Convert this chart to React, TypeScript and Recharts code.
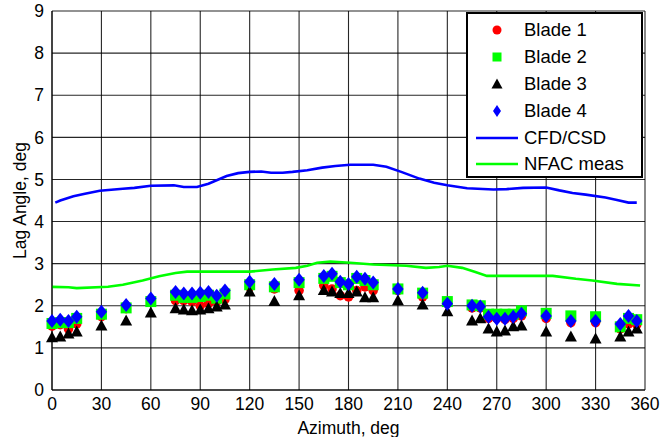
import { ComposedChart, Scatter, Line, XAxis, YAxis, CartesianGrid, Legend } from 'recharts'

const azimuths = [0, 5, 10, 15, 30, 45, 60, 75, 80, 85, 90, 95, 100, 105, 120, 135, 150, 165, 170, 175, 180, 185, 190, 195, 210, 225, 240, 255, 260, 265, 270, 275, 280, 285, 300, 315, 330, 345, 350, 355]

const blade1 = [1.52, 1.55, 1.45, 1.57, 1.74, 1.93, 2.1, 2.12, 2.12, 2.1, 2.0, 2.05, 2.1, 2.15, 2.45, 2.4, 2.36, 2.48, 2.4, 2.24, 2.21, 2.36, 2.45, 2.36, 2.36, 2.21, 2.05, 1.95, 1.95, 1.7, 1.7, 1.68, 1.7, 1.76, 1.7, 1.6, 1.6, 1.45, 1.57, 1.55]
const blade2 = [1.58, 1.6, 1.6, 1.7, 1.8, 1.95, 2.1, 2.25, 2.2, 2.2, 2.22, 2.25, 2.18, 2.28, 2.5, 2.45, 2.55, 2.65, 2.7, 2.55, 2.5, 2.65, 2.6, 2.5, 2.4, 2.3, 2.1, 2.02, 2.0, 1.8, 1.8, 1.8, 1.8, 1.88, 1.82, 1.76, 1.74, 1.5, 1.7, 1.67]
const blade3 = [1.24, 1.26, 1.33, 1.38, 1.52, 1.64, 1.83, 1.93, 1.9, 1.88, 1.9, 1.93, 1.97, 2.02, 2.33, 2.1, 2.24, 2.36, 2.33, 2.29, 2.29, 2.33, 2.19, 2.19, 2.12, 2.02, 1.86, 1.64, 1.69, 1.45, 1.38, 1.4, 1.5, 1.52, 1.38, 1.26, 1.21, 1.26, 1.38, 1.45]
const blade4 = [1.64, 1.67, 1.64, 1.74, 1.86, 2.02, 2.17, 2.33, 2.29, 2.29, 2.31, 2.33, 2.24, 2.36, 2.57, 2.52, 2.62, 2.71, 2.76, 2.57, 2.52, 2.69, 2.64, 2.55, 2.4, 2.31, 2.05, 2.0, 1.98, 1.74, 1.69, 1.69, 1.74, 1.81, 1.76, 1.64, 1.64, 1.57, 1.76, 1.64]

const cfdAz = [2, 5, 13, 20, 29, 43, 50, 60, 74, 80, 88, 95, 106, 113, 120, 127, 133, 140, 146, 155, 164, 172, 181, 195, 203, 212, 223, 232, 240, 252, 268, 276, 286, 300, 308, 316, 324, 336, 343, 350, 355]
const cfdLag = [4.45, 4.5, 4.6, 4.66, 4.73, 4.78, 4.8, 4.85, 4.86, 4.82, 4.82, 4.9, 5.08, 5.15, 5.18, 5.19, 5.16, 5.16, 5.18, 5.22, 5.28, 5.32, 5.35, 5.35, 5.3, 5.18, 5.02, 4.92, 4.86, 4.79, 4.76, 4.77, 4.8, 4.81, 4.74, 4.68, 4.64, 4.57, 4.51, 4.45, 4.45]

const nfacAz = [0, 10, 15, 34, 43, 55, 65, 75, 82, 120, 134, 148, 155, 161, 169, 181, 195, 215, 227, 235, 240, 249, 257, 264, 304, 318, 328, 343, 357]
const nfacLag = [2.45, 2.44, 2.42, 2.45, 2.5, 2.6, 2.7, 2.78, 2.81, 2.81, 2.86, 2.9, 2.95, 3.02, 3.05, 3.02, 2.98, 2.95, 2.9, 2.92, 2.95, 2.9, 2.8, 2.71, 2.71, 2.64, 2.6, 2.52, 2.48]

const xTicks = [0, 30, 60, 90, 120, 150, 180, 210, 240, 270, 300, 330, 360]
const yTicks = [0, 1, 2, 3, 4, 5, 6, 7, 8, 9]

const toPoints = (xs: number[], ys: number[]) => xs.map((x, i) => ({ x, y: ys[i] }))

const FONT = '"Liberation Sans", Arial, sans-serif'

function RedCircle(p: any) {
  return <circle cx={p.cx} cy={p.cy} r={4.8} fill="#ff0000" />
}
function GreenSquare(p: any) {
  return <rect x={p.cx - 5.5} y={p.cy - 5.5} width={11} height={11} fill="#00ff00" />
}
function BlackTriangle(p: any) {
  return <polygon points={`${p.cx},${p.cy - 6.5} ${p.cx + 6},${p.cy + 4.5} ${p.cx - 6},${p.cy + 4.5}`} fill="#000000" />
}
function BlueDiamond(p: any) {
  return <polygon points={`${p.cx},${p.cy - 7} ${p.cx + 5.7},${p.cy} ${p.cx},${p.cy + 7} ${p.cx - 5.7},${p.cy}`} fill="#0000ff" />
}

const legendItems = [
  { name: 'Blade 1', icon: <circle cx={21} cy={8} r={4.5} fill="#ff0000" /> },
  { name: 'Blade 2', icon: <rect x={16.5} y={3.5} width={9} height={9} fill="#00ff00" /> },
  { name: 'Blade 3', icon: <polygon points="21,2.5 26.5,12.5 15.5,12.5" fill="#000" /> },
  { name: 'Blade 4', icon: <polygon points="21,2 25,8 21,14 17,8" fill="#0000ff" /> },
  { name: 'CFD/CSD', icon: <line x1={0} y1={8} x2={42} y2={8} stroke="#0000ff" strokeWidth={2.5} /> },
  { name: 'NFAC meas', icon: <line x1={0} y1={8} x2={42} y2={8} stroke="#00ff00" strokeWidth={2.5} /> },
]

function LegendBox() {
  return (
    <div style={{ width: 177, height: 166, background: '#fff', border: '2px solid #000', boxSizing: 'border-box', paddingTop: 3, fontFamily: FONT, fontSize: 18.5 }}>
      {legendItems.map((item) => (
        <div key={item.name} style={{ display: 'flex', alignItems: 'center', height: 26.8 }}>
          <svg width={42} height={16} style={{ marginLeft: 8, marginRight: 6 }}>{item.icon}</svg>
          <span>{item.name}</span>
        </div>
      ))}
    </div>
  )
}

export default function App() {
  return (
    <div style={{ position: 'absolute', left: 0, top: 0, background: '#fff', fontFamily: FONT }}>
      <ComposedChart width={670} height={437} margin={{ top: 11, right: 25, bottom: 0, left: 0 }}>
        <CartesianGrid stroke="#000" strokeOpacity={0.85} strokeWidth={1.1} />
        <XAxis
          type="number"
          dataKey="x"
          domain={[0, 360]}
          ticks={xTicks}
          interval={0}
          height={47}
          stroke="#000"
          tickLine={false}
          tick={{ fontSize: 17.5, fill: '#000', fontFamily: FONT }}
          label={{ value: 'Azimuth, deg', position: 'insideBottom', offset: 3, fontSize: 17.5, fill: '#000', fontFamily: FONT }}
        />
        <YAxis
          type="number"
          dataKey="y"
          domain={[0, 9]}
          ticks={yTicks}
          interval={0}
          width={52}
          stroke="#000"
          tickLine={false}
          tick={{ fontSize: 17.5, fill: '#000', fontFamily: FONT }}
          label={{ value: 'Lag Angle, deg', angle: -90, position: 'center', dx: -6, fontSize: 17.5, fill: '#000', fontFamily: FONT }}
        />
        <Line data={toPoints(cfdAz, cfdLag)} dataKey="y" name="CFD/CSD" stroke="#0000ff" strokeWidth={2.6} dot={false} type="linear" isAnimationActive={false} />
        <Line data={toPoints(nfacAz, nfacLag)} dataKey="y" name="NFAC meas" stroke="#00ff00" strokeWidth={2.6} dot={false} type="linear" isAnimationActive={false} />
        <Scatter data={toPoints(azimuths, blade1)} name="Blade 1" shape={RedCircle} isAnimationActive={false} />
        <Scatter data={toPoints(azimuths, blade2)} name="Blade 2" shape={GreenSquare} isAnimationActive={false} />
        <Scatter data={toPoints(azimuths, blade3)} name="Blade 3" shape={BlackTriangle} isAnimationActive={false} />
        <Scatter data={toPoints(azimuths, blade4)} name="Blade 4" shape={BlueDiamond} isAnimationActive={false} />
        <Legend
          layout="vertical"
          align="center"
          verticalAlign="middle"
          content={() => <LegendBox />}
          wrapperStyle={{ left: 466, top: 12, width: 177 }}
        />
      </ComposedChart>
    </div>
  )
}
